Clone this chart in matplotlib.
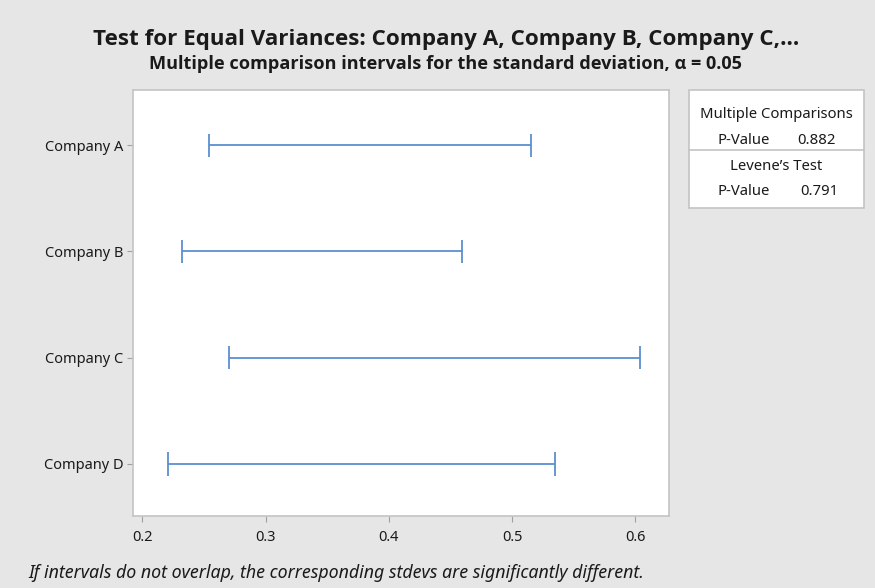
import matplotlib.pyplot as plt
from matplotlib.patches import Rectangle
from matplotlib.lines import Line2D

plt.rcParams.update({
    'font.family': ['Noto Sans', 'DejaVu Sans'],
    'axes.unicode_minus': False,
})

# Bonferroni intervals for the standard deviation
companies = ['Company A', 'Company B', 'Company C', 'Company D']
lower = [0.254, 0.232, 0.270, 0.221]
upper = [0.515, 0.459, 0.604, 0.535]
x_ticks = [0.2, 0.3, 0.4, 0.5, 0.6]
mc_pvalue = 0.882
levene_pvalue = 0.791

bg = '#e6e6e6'
line_col = '#5b8fd0'
frame_col = '#c4c4c4'
txt = '#1a1a1a'
head_font = ['Open Sans', 'Lato', 'DejaVu Sans']

fig = plt.figure(figsize=(8.75, 5.88), dpi=100, facecolor=bg)
W, H = 875, 588

# main plotting area (pixel box converted to figure fractions)
ax = fig.add_axes([133 / W, 1 - 516 / H, (669 - 133) / W, (516 - 90) / H])
ax.set_facecolor('white')

ypos = list(range(1, len(companies) + 1))
for y, lo, hi in zip(ypos, lower, upper):
    ax.plot([lo, hi], [y, y], color=line_col, lw=1.3, solid_capstyle='butt')
    for xv in (lo, hi):
        ax.plot([xv, xv], [y - 0.11, y + 0.11], color=line_col, lw=1.3,
                solid_capstyle='butt')

ax.set_xlim(0.1923, 0.6273)
ax.set_ylim(4.49, 0.48)
ax.set_xticks(x_ticks)
ax.set_xticklabels([f'{t:.1f}' for t in x_ticks])
ax.set_yticks(ypos)
ax.set_yticklabels(companies)
ax.tick_params(axis='both', length=4, width=0.8, color='#a0a0a0',
               labelsize=10.5, labelcolor=txt, pad=3)
ax.tick_params(axis='x', pad=6)
for sp in ax.spines.values():
    sp.set_color(frame_col)
    sp.set_linewidth(1.2)

# titles
fig.text(446 / W, 1 - 40 / H,
         'Test for Equal Variances: Company A, Company B, Company C,...',
         ha='center', va='center', fontsize=16.1, fontweight='bold', color=txt,
         family=head_font)
fig.text(446 / W, 1 - 64 / H,
         'Multiple comparison intervals for the standard deviation, α = 0.05',
         ha='center', va='center', fontsize=13.1, fontweight='bold', color=txt,
         family=head_font)

# p-value summary box
bx0, bx1, by0, by1, bmid = 689, 864, 90, 208, 150
fig.patches.append(Rectangle((bx0 / W, 1 - by1 / H), (bx1 - bx0) / W,
                             (by1 - by0) / H, transform=fig.transFigure,
                             facecolor='white', edgecolor=frame_col, lw=1.2))
fig.lines.append(Line2D([bx0 / W, bx1 / W], [1 - bmid / H, 1 - bmid / H],
                        transform=fig.transFigure, color=frame_col, lw=1.2))
cx = (bx0 + bx1) / 2
box_fs = 10.7
fig.text(cx / W, 1 - 115 / H, 'Multiple Comparisons', ha='center', va='center',
         fontsize=box_fs, color=txt)
fig.text(744 / W, 1 - 140 / H, 'P-Value', ha='center', va='center',
         fontsize=box_fs, color=txt)
fig.text(816 / W, 1 - 140 / H, f'{mc_pvalue:.3f}', ha='center', va='center',
         fontsize=box_fs, color=txt)
fig.text(cx / W, 1 - 167 / H, 'Levene\u2019s Test', ha='center', va='center',
         fontsize=box_fs, color=txt)
fig.text(744 / W, 1 - 192 / H, 'P-Value', ha='center', va='center',
         fontsize=box_fs, color=txt)
fig.text(819 / W, 1 - 192 / H, f'{levene_pvalue:.3f}', ha='center', va='center',
         fontsize=box_fs, color=txt)

# footnote
fig.text(28 / W, 1 - 573 / H,
         'If intervals do not overlap, the corresponding stdevs are significantly different.',
         ha='left', va='center', fontsize=12.8, style='italic', color=txt)

fig.savefig('out.png', dpi=100, facecolor=bg)
